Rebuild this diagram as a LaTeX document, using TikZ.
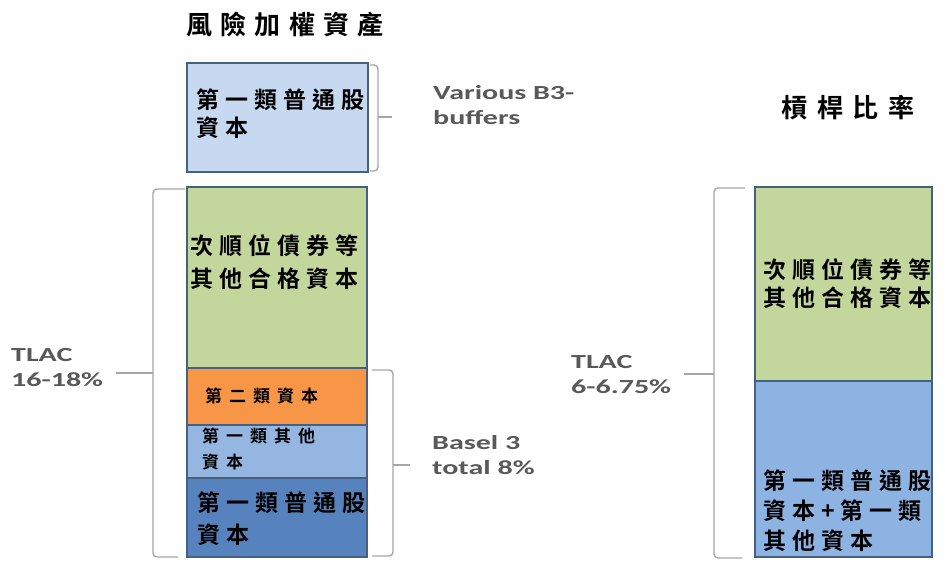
\documentclass[tikz,border=0pt]{standalone}
\usepackage{fontspec}
\newfontfamily\cjk{Noto Sans CJK TC}[BoldFont={* Bold}]
\newfontfamily\lbl{Carlito}[FakeStretch=1.5]
\definecolor{cTop}{HTML}{C6D9F1}
\definecolor{cGreen}{HTML}{C3D69B}
\definecolor{cOrange}{HTML}{F79646}
\definecolor{cLBlue}{HTML}{95B6E0}
\definecolor{cDBlue}{HTML}{5683BD}
\definecolor{cRBlue}{HTML}{8DB3E2}
\definecolor{cBorder}{HTML}{46617F}
\definecolor{cBrace}{HTML}{A6A6A6}
\definecolor{cLabel}{HTML}{595959}
\tikzset{
  x=1pt,y=-1pt,
  bar/.style={draw=cBorder,line width=1.6pt},
  brace/.style={draw=cBrace,line width=1.4pt,rounded corners=4pt},
  bigcjk/.style={font=\cjk\bfseries\fontsize{23}{28}\selectfont\addfontfeature{LetterSpace=26},align=left,inner sep=0pt,anchor=west},
  smallcjk/.style={font=\cjk\bfseries\fontsize{17}{26}\selectfont\addfontfeature{LetterSpace=41},align=left,inner sep=0pt,anchor=west},
  titlecjk/.style={font=\cjk\bfseries\fontsize{26}{28}\selectfont\addfontfeature{LetterSpace=31},inner sep=0pt},
  lab/.style={font=\lbl\bfseries\fontsize{20}{25}\selectfont,text=cLabel,align=left,inner sep=0pt,anchor=west}
}
\begin{document}
\begin{tikzpicture}
\useasboundingbox (0,0) rectangle (945,563);
% titles
\node[titlecjk] (t1) at (285,25) {風險加權資產};
\node[titlecjk,font=\cjk\bfseries\fontsize{26}{28}\selectfont\addfontfeature{LetterSpace=38}] (t2) at (848,108) {槓桿比率};
% top buffer box
\draw[bar,fill=cTop] (187,63) rectangle (368,172);
\node[bigcjk] (topTxt) at (196,114) {第一類普通股\\資本};
% left stack
\draw[bar,fill=cGreen] (187,187) rectangle (367,368);
\draw[bar,fill=cOrange] (187,368) rectangle (367,425);
\draw[bar,fill=cLBlue] (187,425) rectangle (367,478);
\draw[bar,fill=cDBlue] (187,478) rectangle (367,557);
\node[bigcjk,font=\cjk\bfseries\fontsize{23}{33}\selectfont\addfontfeature{LetterSpace=26}] (gTxt) at (190,262) {次順位債券等\\其他合格資本};
\node[smallcjk] (oTxt) at (205,396) {第二類資本};
\node[smallcjk] (lbTxt) at (202,449) {第一類其他\\資本};
\node[bigcjk,font=\cjk\bfseries\fontsize{23}{32}\selectfont\addfontfeature{LetterSpace=26}] (dbTxt) at (197,519) {第一類普通股\\資本};
% right stack
\draw[bar,fill=cGreen] (755,187) rectangle (932,381);
\draw[bar,fill=cRBlue] (755,381) rectangle (932,557);
\node[bigcjk] (rgTxt) at (763,284) {次順位債券等\\其他合格資本};
\node[bigcjk,font=\cjk\bfseries\fontsize{23}{30}\selectfont\addfontfeature{LetterSpace=26}] (rbTxt) at (763,511) {第一類普通股\\資本+第一類\\其他資本};
% braces
\draw[brace] (370,65) -- (378,65) -- (378,171) -- (370,171);
\draw[brace,rounded corners=0pt] (378,117) -- (392,117);
\draw[brace] (185,189) -- (153,189) -- (153,557) -- (178,557);
\draw[brace,rounded corners=0pt] (116,373) -- (153,373);
\draw[brace] (372,370) -- (393,370) -- (393,556) -- (372,556);
\draw[brace,rounded corners=0pt] (393,465) -- (410,465);
\draw[brace] (745,188) -- (714,188) -- (714,558) -- (742,558);
\draw[brace,rounded corners=0pt] (684,374) -- (714,374);
% labels
\node[lab] (buf) at (433,105) {Various B3-\\buffers};
\node[lab] (tl1) at (11,368) {TLAC\\16-18\%};
\node[lab] (bas) at (432,455) {Basel 3\\total 8\%};
\node[lab] (tl2) at (571,375) {TLAC\\6-6.75\%};
\end{tikzpicture}
\end{document}
